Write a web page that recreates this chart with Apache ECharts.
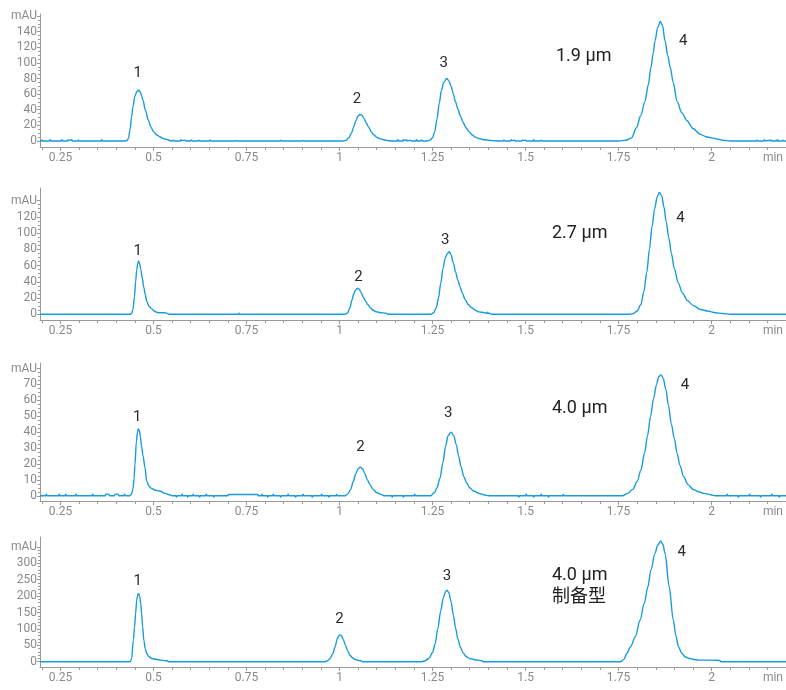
<!DOCTYPE html>
<html>
<head>
<meta charset="utf-8">
<script src="https://cdn.jsdelivr.net/npm/echarts@6/dist/echarts.min.js"></script>
<style>
  html, body { margin: 0; padding: 0; background: #fff; }
  #chart { width: 786px; height: 690px; }
</style>
</head>
<body>
<div id="chart"></div>
<script>
// ---- retention-time axis (min) ----
const timeTicks = [0.25, 0.5, 0.75, 1, 1.25, 1.5, 1.75, 2];
const timeTickLabels = ['0.25', '0.5', '0.75', '1', '1.25', '1.5', '1.75', '2'];
const timeMinorTicks = [0.2, 0.25, 0.3, 0.35, 0.4, 0.45, 0.5, 0.55, 0.6, 0.65, 0.7, 0.75, 0.8, 0.85, 0.9, 0.95,
  1, 1.05, 1.1, 1.15, 1.2, 1.25, 1.3, 1.35, 1.4, 1.45, 1.5, 1.55, 1.6, 1.65, 1.7, 1.75, 1.8, 1.85, 1.9, 1.95,
  2, 2.05, 2.1, 2.15, 2.2];
const timeUnitLabel = 'min';
const timeUnitPos = 2.165;

// ---- absorbance axes (mAU), one per column ----
const absTicks = [
  [0, 20, 40, 60, 80, 100, 120, 140, 160],
  [0, 20, 40, 60, 80, 100, 120, 140],
  [0, 10, 20, 30, 40, 50, 60, 70, 80],
  [0, 50, 100, 150, 200, 250, 300, 350]
];
const absMinorStep = [5, 5, 2.5, 10];
const absUnitLabel = 'mAU';

// ---- column labels and peak numbering ----
const columnLabels = ['1.9 µm', '2.7 µm', '4.0 µm', '4.0 µm\n制备型'];
const peakNames = ['1', '2', '3', '4'];
const peakTimes = [
  [0.46, 1.055, 1.288, 1.862],
  [0.46, 1.048, 1.295, 1.86],
  [0.459, 1.056, 1.3, 1.864],
  [0.46, 1.0, 1.289, 1.863]
];

// ---- chromatogram traces: [time (min), absorbance (mAU)] ----
const trace19 = [
  [0.195,0],[0.199,0],[0.2,1.2],[0.202,0],[0.22,0],[0.222,1.5],[0.224,0],[0.252,0],[0.254,1.5],[0.256,0],
  [0.269,0],[0.271,1.5],[0.273,0.8],[0.28,1.5],[0.282,0],[0.296,0],[0.298,1.2],[0.3,0],[0.359,0],[0.361,1.5],[0.363,0],
  [0.425,0],[0.43,1],[0.433,4],[0.437,14],[0.441,31],[0.445,44],[0.45,57],[0.455,63],[0.46,65],[0.464,63],
  [0.468,58],[0.472,52],[0.478,40],[0.486,27],[0.493,18],[0.5,12],[0.508,8],[0.517,5.5],[0.525,3.5],[0.535,2],[0.545,0.5],[0.55,0],
  [0.553,1],[0.555,0],[0.572,0],[0.574,1.5],[0.576,0.5],[0.585,1],[0.588,0],[0.6,0],[0.602,1.2],[0.604,0],
  [0.62,0],[0.622,1],[0.625,0],[0.65,0],[0.652,1.2],[0.654,0],[0.72,0],[0.722,0.8],[0.724,0],[0.84,0],[0.842,1],[0.844,0],
  [0.9,0],[0.902,0.8],[0.904,0],
  [1.01,0],[1.018,1],[1.025,4],[1.032,10],[1.038,18],[1.044,26],[1.05,32],[1.055,34],[1.06,33],[1.066,29],
  [1.072,23],[1.078,18],[1.085,12],[1.092,8],[1.1,5],[1.108,3],[1.118,1.5],[1.13,0.5],[1.14,0],
  [1.155,0],[1.157,1.5],[1.159,0],[1.17,0],[1.172,1.8],[1.174,0.5],[1.18,1.5],[1.182,0],[1.19,1],[1.193,0],
  [1.205,0],[1.207,1.5],[1.209,0],[1.218,0],[1.22,1.2],[1.222,0],
  [1.235,0],[1.243,1],[1.25,4],[1.256,12],[1.262,28],[1.268,48],[1.274,65],[1.28,75],[1.288,80],[1.294,77],
  [1.3,70],[1.306,60],[1.312,50],[1.318,41],[1.325,32],[1.332,24],[1.34,17],[1.348,12],[1.356,8],[1.365,5],
  [1.375,3],[1.39,1.5],[1.41,0.5],[1.43,0],
  [1.44,0],[1.442,1.2],[1.444,0],[1.46,0],[1.462,1.5],[1.464,0.5],[1.47,1],[1.472,0],[1.49,0],[1.492,1.2],
  [1.494,0.5],[1.5,1],[1.503,0],[1.52,0],[1.522,1.5],[1.524,0],[1.54,0],[1.542,1],[1.545,0],
  [1.75,0],[1.77,1],[1.785,4],[1.798,17],[1.81,33],[1.821,51],[1.83,72],[1.837,94],[1.843,112],[1.848,128],
  [1.855,145],[1.862,153],[1.868,148],[1.875,128],[1.882,110],[1.889,94],[1.897,75],[1.907,51],[1.92,36],
  [1.934,26],[1.95,16],[1.97,8.5],[1.985,5.5],[2.0,4],[2.015,2.5],[2.03,1],[2.05,0],
  [2.12,0],[2.122,1.2],[2.124,0],[2.14,0],[2.142,1.5],[2.144,0.3],[2.16,1],[2.162,0],[2.175,0],[2.177,1.5],
  [2.179,0],[2.19,0],[2.192,1],[2.194,0],[2.2,0]
];

const trace27 = [
  [0.195,0],[0.437,0],[0.441,1],[0.445,6],[0.449,22],[0.452,40],[0.455,55],[0.458,63],[0.46,65.5],[0.463,62],
  [0.466,55],[0.47,44],[0.474,33],[0.478,24],[0.482,16],[0.488,10],[0.495,7],[0.502,4],[0.508,2.5],[0.515,2],
  [0.53,2],[0.536,1.5],[0.541,0],
  [0.728,0],[0.73,1.5],[0.732,0],
  [1.015,0],[1.022,2],[1.028,8],[1.033,17],[1.038,25],[1.043,30],[1.048,32],[1.053,31],[1.058,27],[1.064,21],
  [1.07,16],[1.076,12],[1.083,8],[1.09,5],[1.1,3],[1.11,2],[1.125,1.5],[1.13,0],
  [1.245,0],[1.253,2],[1.26,8],[1.266,20],[1.272,38],[1.278,56],[1.284,69],[1.29,75],[1.295,77],[1.3,73],
  [1.306,63],[1.312,52],[1.318,42],[1.324,34],[1.33,26],[1.338,18],[1.346,12],[1.355,8],[1.365,5],[1.375,3],
  [1.39,2],[1.396,1],[1.398,2.5],[1.4,1],[1.403,1.5],[1.406,0.5],[1.41,0],
  [1.78,0],[1.79,1],[1.8,4],[1.81,12],[1.818,28],[1.826,52],[1.833,80],[1.84,108],[1.847,130],[1.854,145],
  [1.86,150],[1.866,146],[1.872,132],[1.878,114],[1.885,94],[1.892,75],[1.9,56],[1.91,39],[1.922,26],
  [1.935,17],[1.95,11],[1.97,6],[1.99,4],[2.01,2],[2.03,1],[2.05,0],[2.2,0]
];

const trace40 = [
  [0.195,0],[0.21,0],[0.212,1],[0.214,0],[0.245,0],[0.247,1],[0.249,0],[0.262,0],[0.264,1],[0.266,0],
  [0.29,0],[0.292,1],[0.294,0],[0.335,0],[0.337,1],[0.339,0],[0.37,0],[0.372,1],[0.38,1],[0.382,0],
  [0.395,0],[0.397,1],[0.405,1],[0.407,0],[0.42,0],[0.422,1],[0.425,0],
  [0.437,0],[0.441,1],[0.445,4.6],[0.448,11],[0.45,19],[0.454,34],[0.457,40],[0.459,42],[0.462,41],[0.465,37],
  [0.468,31],[0.472,25],[0.477,18],[0.482,9],[0.488,6],[0.495,4.6],[0.505,3.5],[0.517,3],[0.53,1.5],[0.545,0.5],[0.55,0],
  [0.56,0],[0.562,-0.8],[0.564,0],[0.575,0],[0.577,1],[0.579,0],[0.59,0],[0.592,-0.8],[0.594,0],[0.605,0],
  [0.607,1],[0.609,0],[0.622,0],[0.624,-0.8],[0.626,0],[0.64,0],[0.642,1],[0.644,0],[0.66,0],[0.662,-0.8],
  [0.664,0],[0.7,0],[0.702,0.8],[0.78,0.8],[0.782,0],[0.79,0],[0.792,1],[0.794,0],[0.805,0],[0.807,-0.8],
  [0.809,0],[0.82,0],[0.822,1],[0.824,0],[0.84,0],[0.842,-0.8],[0.844,0],[0.86,0],[0.862,1],[0.864,0],
  [0.88,0],[0.882,-0.8],[0.884,0],[0.9,0],[0.902,1],[0.904,0],[0.925,0],[0.927,-0.8],[0.929,0],[0.95,0],
  [0.952,1],[0.954,0],[0.97,0],[0.972,-0.8],[0.974,0],[0.99,0],[0.992,0.8],[0.994,0],
  [1.015,0],[1.022,1],[1.03,4],[1.037,9],[1.044,14],[1.05,17],[1.056,18],[1.062,17],[1.068,14],[1.075,10],
  [1.082,7],[1.09,4],[1.1,2],[1.11,1],[1.12,0],
  [1.14,0],[1.142,-0.8],[1.144,0],[1.17,0],[1.172,-0.8],[1.174,0],[1.2,0],[1.202,1],[1.204,0],
  [1.245,0],[1.255,2],[1.262,5],[1.27,11],[1.278,21],[1.285,31],[1.292,38],[1.3,40],[1.307,38],[1.314,32],
  [1.32,25],[1.327,18],[1.334,12],[1.342,8],[1.35,5],[1.36,3],[1.375,1.5],[1.39,0.5],[1.4,0],
  [1.48,0],[1.482,-0.8],[1.484,0],[1.5,0],[1.502,1],[1.504,0],[1.52,0],[1.522,-0.8],[1.524,0],[1.54,0],
  [1.542,1],[1.544,0],[1.56,0],[1.562,-0.8],[1.564,0],[1.6,0],[1.602,0.8],[1.604,0],
  [1.76,0],[1.775,1.5],[1.788,4],[1.8,9],[1.81,16],[1.82,27],[1.828,38],[1.836,50],[1.844,61],[1.852,70],
  [1.858,75],[1.864,76],[1.87,74],[1.877,67],[1.884,57],[1.892,45],[1.9,36],[1.907,27],[1.915,19],[1.925,12],
  [1.937,7],[1.95,4],[1.965,2.5],[1.98,1.5],[2.0,0.5],[2.01,0],
  [2.04,0],[2.042,1],[2.044,0],[2.07,0],[2.072,-0.8],[2.074,0],[2.1,0],[2.102,1],[2.104,0],[2.13,0],
  [2.132,-0.8],[2.134,0],[2.16,0],[2.162,1],[2.164,0],[2.18,0],[2.182,-0.8],[2.184,0],[2.2,0]
];

const trace40prep = [
  [0.195,0],[0.437,0],[0.441,8],[0.446,66],[0.449,105],[0.452,147],[0.455,188],[0.458,204],[0.46,208],
  [0.463,200],[0.466,175],[0.468,147],[0.471,105],[0.474,66],[0.478,40],[0.482,25],[0.488,15],[0.495,10],
  [0.508,7],[0.52,5],[0.531,3.5],[0.537,3],[0.54,0],
  [0.96,0],[0.968,3],[0.975,10],[0.982,25],[0.988,45],[0.994,70],[1.0,82],[1.005,80],[1.01,68],[1.016,50],
  [1.022,33],[1.028,20],[1.035,12],[1.042,7],[1.05,4],[1.058,3],[1.062,0],
  [1.22,0],[1.23,3],[1.24,10],[1.25,28],[1.257,55],[1.264,100],[1.272,155],[1.279,195],[1.285,214],[1.289,218],
  [1.294,210],[1.3,182],[1.306,142],[1.312,102],[1.318,70],[1.325,44],[1.332,27],[1.34,16],[1.35,10],
  [1.36,7],[1.37,5],[1.383,3],[1.386,0],
  [1.755,0],[1.765,8],[1.772,25],[1.782,45],[1.795,76],[1.808,127],[1.819,178],[1.829,229],[1.837,280],
  [1.848,330],[1.855,355],[1.863,368],[1.869,358],[1.875,330],[1.886,229],[1.897,127],[1.904,80],[1.911,46],
  [1.92,26],[1.929,15],[1.94,10],[1.952,7],[1.965,5],[2.0,5],[2.022,4],[2.025,0],[2.2,0]
];

const traces = [trace19, trace27, trace40, trace40prep];

// ---- layout and styling ----
const TIME_MIN = 0.195, TIME_MAX = 2.2;
const panels = [
  { top: 14,  height: 133, yMin: -7.7, yMax: 162.6 },
  { top: 188, height: 132, yMin: -7.0, yMax: 155.4 },
  { top: 363, height: 138, yMin: -3.3, yMax: 83.5 },
  { top: 537, height: 130, yMin: -16,  yMax: 380 }
];
const labelOffsets = [
  [[-1, -17], [-3, -15], [-3, -15], [23, 20]],
  [[-1, -10], [1, -11], [-4, -11], [21, 26]],
  [[-1, -12], [0, -20], [-3, -19], [24, 10]],
  [[-1, -12], [0, -16], [0, -14], [21, 11]]
];
const columnLabelPos = [[556, 56], [552, 233], [552, 408], [552, 586]];

const LINE_COLOR = '#169bdd';
const AXIS_COLOR = '#9a9a9a';
const TICK_TEXT = '#8a8a8a';
const FONT = 'Roboto, "Noto Sans CJK SC", sans-serif';

function apexOf(trace, t) {
  let best = null;
  for (const p of trace) {
    if (Math.abs(p[0] - t) <= 0.015 && (!best || p[1] > best[1])) best = p;
  }
  return best;
}

function range(from, to, step) {
  const out = [];
  const n = Math.round((to - from) / step);
  for (let i = 0; i <= n; i++) out.push(+(from + i * step).toFixed(4));
  return out;
}

const grid = [], xAxis = [], yAxis = [], series = [], graphic = [];

panels.forEach((p, i) => {
  grid.push({ left: 40, width: 746, top: p.top, height: p.height });

  // main time axis: labels and major ticks
  xAxis.push({
    gridIndex: i, type: 'value', min: TIME_MIN, max: TIME_MAX, position: 'bottom',
    axisLine: { show: true, onZero: false, lineStyle: { color: AXIS_COLOR, width: 1 } },
    axisTick: { show: true, customValues: timeTicks, length: 4, lineStyle: { color: AXIS_COLOR } },
    axisLabel: {
      customValues: timeTicks.concat([timeUnitPos]),
      formatter: v => Math.abs(v - timeUnitPos) < 1e-6 ? timeUnitLabel
        : timeTickLabels[timeTicks.findIndex(t => Math.abs(t - v) < 1e-6)],
      color: TICK_TEXT, fontSize: 12, fontFamily: FONT, margin: 5
    },
    splitLine: { show: false }
  });
  // minor time ticks
  xAxis.push({
    gridIndex: i, type: 'value', min: TIME_MIN, max: TIME_MAX, position: 'bottom',
    axisLine: { show: false, onZero: false },
    axisTick: { show: true, customValues: timeMinorTicks, length: 3, lineStyle: { color: AXIS_COLOR } },
    axisLabel: { show: false },
    splitLine: { show: false }
  });

  const ticks = absTicks[i];
  const topTick = ticks[ticks.length - 1];
  yAxis.push({
    gridIndex: i, type: 'value', min: p.yMin, max: p.yMax, position: 'left',
    axisLine: { show: true, onZero: false, lineStyle: { color: AXIS_COLOR, width: 1 } },
    axisTick: { show: true, customValues: ticks, length: 3, lineStyle: { color: AXIS_COLOR } },
    axisLabel: {
      customValues: ticks,
      formatter: v => v === topTick ? absUnitLabel : String(v),
      color: TICK_TEXT, fontSize: 12, fontFamily: FONT, margin: 3
    },
    splitLine: { show: false }
  });
  yAxis.push({
    gridIndex: i, type: 'value', min: p.yMin, max: p.yMax, position: 'left',
    axisLine: { show: false, onZero: false },
    axisTick: { show: true, customValues: range(0, topTick, absMinorStep[i]), length: 2, lineStyle: { color: AXIS_COLOR } },
    axisLabel: { show: false },
    splitLine: { show: false }
  });

  const trace = traces[i];
  series.push({
    type: 'line',
    xAxisIndex: 2 * i, yAxisIndex: 2 * i,
    data: trace,
    showSymbol: false, symbol: 'none',
    smooth: 0.3, smoothMonotone: 'x',
    lineStyle: { color: LINE_COLOR, width: 1.4 },
    silent: true,
    markPoint: {
      symbol: 'circle', symbolSize: 1,
      itemStyle: { color: 'rgba(0,0,0,0)' },
      label: { show: true, color: '#2a2a2a', fontSize: 15, fontFamily: FONT },
      data: peakTimes[i].map((t, k) => {
        const a = apexOf(trace, t);
        return {
          coord: a,
          label: { formatter: peakNames[k], offset: labelOffsets[i][k] }
        };
      })
    }
  });

  graphic.push({
    type: 'text',
    x: columnLabelPos[i][0], y: columnLabelPos[i][1],
    style: {
      text: columnLabels[i],
      fill: '#222', font: '18px ' + FONT,
      align: 'left', verticalAlign: 'middle', lineHeight: 22
    }
  });
});

const chart = echarts.init(document.getElementById('chart'), null, { renderer: 'canvas' });
chart.setOption({
  animation: false,
  backgroundColor: '#fff',
  grid, xAxis, yAxis, series, graphic
});
</script>
</body>
</html>
